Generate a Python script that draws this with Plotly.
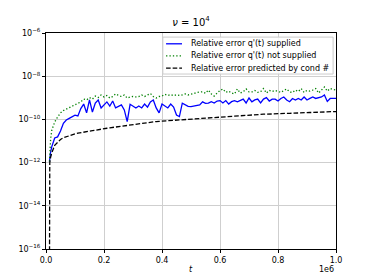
import plotly.graph_objects as go

# time samples, in units of 1e4
t_e4 = [1.2, 1.3, 1.6, 2,
        3, 4, 5, 6, 7, 8, 9, 10, 11, 12, 13, 14, 15, 16, 17, 18, 19, 20,
        21, 22, 23, 24, 25, 26, 27, 28, 29, 30, 31, 32, 33, 34, 35, 36, 37, 38, 39, 40,
        41, 42, 43, 44, 45, 46, 47, 48, 49, 50, 51, 52, 53, 54, 55, 56, 57, 58, 59, 60,
        61, 62, 63, 64, 65, 66, 67, 68, 69, 70, 71, 72, 73, 74, 75, 76, 77, 78, 79, 80,
        81, 82, 83, 84, 85, 86, 87, 88, 89, 90, 91, 92, 93, 94, 95, 96, 97, 98, 99, 100]

# log10 of the relative errors
supplied_log10 = [-11.95, -11.8, -11.5, -11.26,
    -10.86, -10.81, -10.54, -10.18, -10.03, -9.95, -9.89, -9.80, -9.84, -9.50, -9.29, -9.70, -9.10, -9.66, -9.24, -9.10, -9.47, -9.33,
    -9.19, -9.38, -9.15, -9.47, -9.38, -9.33, -9.56, -10.10, -9.30, -9.38, -9.47, -9.38, -9.47, -9.29, -9.43, -9.19, -9.10, -9.47, -9.70, -9.29,
    -9.38, -9.47, -9.29, -9.43, -9.80, -9.87, -9.25, -9.33, -9.40, -9.41, -9.38, -9.33, -9.33, -9.19, -9.26, -9.25, -9.18, -9.24, -9.15, -9.13,
    -9.24, -9.13, -9.29, -9.18, -9.13, -9.19, -9.13, -9.06, -9.24, -9.01, -9.19, -9.10, -9.06, -9.24, -9.06, -8.99, -9.15, -9.06, -9.06, -9.15,
    -9.03, -8.96, -9.10, -9.18, -9.03, -9.10, -9.03, -9.10, -8.96, -9.10, -9.03, -8.96, -9.03, -9.01, -8.96, -8.87, -9.17, -9.03, -9.03, -9.03]

not_supplied_log10 = [-11.95, -11.5, -10.9, -10.5,
    -10.12, -9.89, -9.70, -9.59, -9.52, -9.47, -9.38, -9.33, -9.26, -9.19, -9.06, -9.10, -8.99, -9.06, -8.92, -8.99, -8.87, -8.96,
    -8.89, -9.01, -8.94, -8.82, -8.89, -8.94, -8.87, -9.01, -8.96, -8.94, -8.96, -8.94, -8.87, -8.94, -8.87, -8.80, -8.94, -9.01, -8.94, -8.92,
    -8.84, -8.89, -8.85, -8.90, -8.86, -8.89, -8.87, -8.82, -8.87, -8.85, -8.80, -8.75, -8.72, -8.72, -8.79, -8.64, -8.82, -8.92, -8.78, -8.66,
    -8.59, -8.75, -8.69, -8.78, -8.82, -8.59, -8.78, -8.72, -8.59, -8.73, -8.73, -8.66, -8.75, -8.72, -8.57, -8.78, -8.66, -8.71, -8.66, -8.71,
    -8.75, -8.66, -8.59, -8.73, -8.75, -8.64, -8.71, -8.57, -8.75, -8.66, -8.69, -8.64, -8.57, -8.78, -8.64, -8.50, -8.69, -8.57, -8.62, -8.64]

predicted_log10 = [-17.0, -12.0, -11.75, -11.55,
    -11.2, -11.05, -10.93, -10.85, -10.8, -10.75, -10.7, -10.67, -10.64, -10.61, -10.58, -10.56, -10.54, -10.52, -10.50, -10.47, -10.45, -10.43,
    -10.41, -10.39, -10.37, -10.35, -10.33, -10.31, -10.29, -10.27, -10.25, -10.23, -10.21, -10.19, -10.17, -10.15, -10.13, -10.12, -10.11, -10.10, -10.09, -10.08,
    -10.07, -10.06, -10.05, -10.04, -10.03, -10.02, -10.01, -10.00, -9.99, -9.98, -9.97, -9.96, -9.95, -9.94, -9.93, -9.92, -9.91, -9.90, -9.89, -9.88,
    -9.87, -9.86, -9.86, -9.85, -9.84, -9.83, -9.82, -9.81, -9.81, -9.80, -9.79, -9.78, -9.78, -9.77, -9.76, -9.76, -9.75, -9.75, -9.74, -9.74,
    -9.73, -9.73, -9.72, -9.72, -9.71, -9.71, -9.70, -9.70, -9.69, -9.69, -9.68, -9.68, -9.67, -9.67, -9.66, -9.66, -9.65, -9.65, -9.64, -9.64]

series_names = ["Relative error q'(t) supplied",
                "Relative error q'(t) not supplied",
                "Relative error predicted by cond #"]

x_tick_vals = [0, 0.2e6, 0.4e6, 0.6e6, 0.8e6, 1.0e6]
x_tick_text = ["0.0", "0.2", "0.4", "0.6", "0.8", "1.0"]
y_tick_vals = [1e-16, 1e-14, 1e-12, 1e-10, 1e-8, 1e-6]
y_tick_text = ["10<sup>\u221216</sup>", "10<sup>\u221214</sup>", "10<sup>\u221212</sup>",
               "10<sup>\u221210</sup>", "10<sup>\u22128</sup>", "10<sup>\u22126</sup>"]

assert len(t_e4) == len(supplied_log10) == len(not_supplied_log10) == len(predicted_log10)

t = [v * 1e4 for v in t_e4]
supplied = [10 ** v for v in supplied_log10]
not_supplied = [10 ** v for v in not_supplied_log10]
predicted = [10 ** v for v in predicted_log10]

FONT = "DejaVu Sans"
styles = [dict(color="#0000ff", width=1.3),
          dict(color="#008000", width=1.3, dash="1.3px,2.1px"),
          dict(color="#000000", width=1.3, dash="4.6px,2px")]

fig = go.Figure()
for y, name, st in zip([supplied, not_supplied, predicted], series_names, styles):
    fig.add_trace(go.Scatter(x=t, y=y, mode="lines", name=name, line=st, showlegend=False))

# legend box drawn in paper coordinates (matplotlib-style, compact rows)
shapes = [dict(type="rect", xref="paper", yref="paper", x0=0.403, x1=0.990, y0=0.810, y1=0.981,
               fillcolor="rgba(255,255,255,0.85)", line=dict(color="#cccccc", width=1), layer="above")]
annotations = []
row_y = [0.950, 0.894, 0.837]
for ry, name, st in zip(row_y, series_names, styles):
    shapes.append(dict(type="line", xref="paper", yref="paper", x0=0.414, x1=0.469, y0=ry, y1=ry,
                       line=st, layer="above"))
    annotations.append(dict(text=name, xref="paper", yref="paper", x=0.493, y=ry,
                            xanchor="left", yanchor="middle", showarrow=False,
                            font=dict(family=FONT, size=8, color="black")))

annotations += [
    dict(text="<i>t</i>", xref="paper", yref="paper", x=0.5, y=-0.095,
         xanchor="center", yanchor="middle", showarrow=False, font=dict(family=FONT, size=8)),
    dict(text="1e6", xref="paper", yref="paper", x=1.0, y=-0.095,
         xanchor="right", yanchor="middle", showarrow=False, font=dict(family=FONT, size=8)),
]

fig.update_layout(
    width=374, height=280,
    margin=dict(l=46, r=38, t=33, b=31),
    paper_bgcolor="white", plot_bgcolor="white",
    font=dict(family=FONT, size=8, color="black"),
    title=dict(text="<i>\u03bd</i> = 10<sup>4</sup>", x=0.5, xref="paper",
               y=1 - 22 / 280, yanchor="middle", font=dict(family=FONT, size=10)),
    showlegend=False,
    xaxis=dict(range=[0, 1e6], tickvals=x_tick_vals, ticktext=x_tick_text,
               showgrid=True, gridcolor="#cfcfcf", gridwidth=0.8,
               showline=True, linecolor="black", linewidth=1, mirror=True,
               ticks="outside", ticklen=3, tickcolor="black", zeroline=False,
               tickfont=dict(family=FONT, size=8)),
    yaxis=dict(type="log", range=[-16, -6], tickvals=y_tick_vals, ticktext=y_tick_text,
               showgrid=True, gridcolor="#cfcfcf", gridwidth=0.8,
               showline=True, linecolor="black", linewidth=1, mirror=True,
               ticks="outside", ticklen=3, tickcolor="black", zeroline=False,
               tickfont=dict(family=FONT, size=8)),
    shapes=shapes,
    annotations=annotations,
)

fig.write_html("out.html", config={"displayModeBar": False},
               post_script="document.body.style.margin='0';")
